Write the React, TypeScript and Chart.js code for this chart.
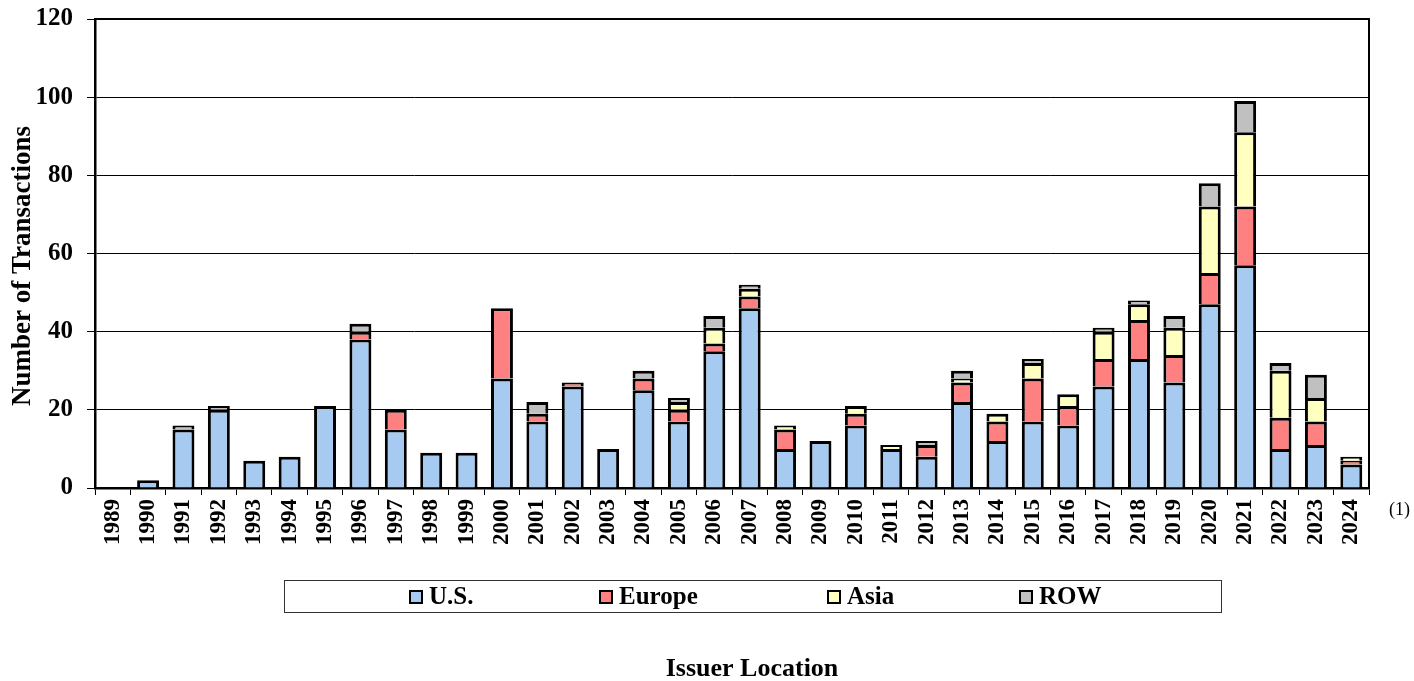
import React, { useEffect, useRef } from "react";
import { Chart, registerables } from "chart.js";

Chart.register(...registerables);

const years = [
  "1989", "1990", "1991", "1992", "1993", "1994", "1995", "1996", "1997", "1998",
  "1999", "2000", "2001", "2002", "2003", "2004", "2005", "2006", "2007", "2008",
  "2009", "2010", "2011", "2012", "2013", "2014", "2015", "2016", "2017", "2018",
  "2019", "2020", "2021", "2022", "2023", "2024",
];
const usValues = [0, 2, 15, 20, 7, 8, 21, 38, 15, 9, 9, 28, 17, 26, 10, 25, 17, 35, 46, 10, 12, 16, 10, 8, 22, 12, 17, 16, 26, 33, 27, 47, 57, 10, 11, 6];
const europeValues = [0, 0, 0, 0, 0, 0, 0, 2, 5, 0, 0, 18, 2, 1, 0, 3, 3, 2, 3, 5, 0, 3, 0, 3, 5, 5, 11, 5, 7, 10, 7, 8, 15, 8, 6, 1];
const asiaValues = [0, 0, 0, 0, 0, 0, 0, 0, 0, 0, 0, 0, 0, 0, 0, 0, 2, 4, 2, 1, 0, 2, 1, 0, 1, 2, 4, 3, 7, 4, 7, 17, 19, 12, 6, 1];
const rowValues = [0, 0, 1, 1, 0, 0, 0, 2, 0, 0, 0, 0, 3, 0, 0, 2, 1, 3, 1, 0, 0, 0, 0, 1, 2, 0, 1, 0, 1, 1, 3, 6, 8, 2, 6, 0];

const seriesNames = ["U.S.", "Europe", "Asia", "ROW"];
const seriesColors = ["#A6CAF0", "#FF8080", "#FFFFC0", "#C0C0C0"];
const yMin = 0;
const yMax = 120;
const yStep = 20;
const yTitle = "Number of Transactions";
const xTitle = "Issuer Location";
const footnote = "(1)";

const FONT = "'Liberation Serif', 'Times New Roman', serif";

// layout constants (pixels)
const legendBox = { left: 284.5, top: 580.5, right: 1221.5, bottom: 612.5 };
const legendItemX = [409, 599, 827, 1019];

const decorPlugin = {
  id: "decor",
  afterDraw(chart: any) {
    const { ctx, chartArea: a } = chart;
    ctx.save();
    // plot frame (top + right)
    ctx.strokeStyle = "#000";
    ctx.lineWidth = 2;
    ctx.beginPath();
    ctx.moveTo(a.left, a.top);
    ctx.lineTo(a.right, a.top);
    ctx.lineTo(a.right, a.bottom);
    ctx.stroke();

    // y title
    ctx.fillStyle = "#000";
    ctx.font = `bold 27px ${FONT}`;
    ctx.textAlign = "center";
    ctx.textBaseline = "middle";
    ctx.save();
    ctx.translate(23, 266);
    ctx.rotate(-Math.PI / 2);
    ctx.fillText(yTitle, 0, 0);
    ctx.restore();

    // footnote
    ctx.font = `18px ${FONT}`;
    ctx.textAlign = "left";
    ctx.textBaseline = "middle";
    ctx.fillText(footnote, 1389, 510);

    // legend box
    ctx.strokeStyle = "#333";
    ctx.lineWidth = 1;
    ctx.strokeRect(legendBox.left, legendBox.top, legendBox.right - legendBox.left, legendBox.bottom - legendBox.top);
    ctx.font = `bold 25px ${FONT}`;
    ctx.textBaseline = "alphabetic";
    seriesNames.forEach((name, i) => {
      const x = legendItemX[i];
      ctx.fillStyle = seriesColors[i];
      ctx.fillRect(x + 1, 591, 12, 12);
      ctx.strokeStyle = "#000";
      ctx.lineWidth = 2;
      ctx.strokeRect(x + 1, 591, 12, 12);
      ctx.fillStyle = "#000";
      ctx.fillText(name, x + 20, 604);
    });

    // x title
    ctx.font = `bold 26px ${FONT}`;
    ctx.textAlign = "center";
    ctx.fillText(xTitle, 752, 676);
    ctx.restore();
  },
};

export default function App() {
  const canvasRef = useRef<HTMLCanvasElement | null>(null);

  useEffect(() => {
    const canvas = canvasRef.current;
    if (!canvas) return;
    const seriesData = [usValues, europeValues, asiaValues, rowValues];
    const chart = new Chart(canvas, {
      type: "bar",
      data: {
        labels: years,
        datasets: seriesNames.map((name, i) => ({
          label: name,
          data: seriesData[i].map((v) => (v === 0 ? null : v)),
          backgroundColor: seriesColors[i],
          borderColor: "#000",
          borderWidth: 3,
          borderSkipped: "start",
          barPercentage: 0.62,
          categoryPercentage: 1,
        })),
      },
      options: {
        responsive: false,
        animation: false,
        devicePixelRatio: 1,
        layout: { padding: { top: 19, right: 45, bottom: 0, left: 0 } },
        plugins: {
          legend: { display: false },
          tooltip: { enabled: false },
          title: { display: false },
        },
        scales: {
          x: {
            stacked: true,
            offset: true,
            grid: {
              display: true,
              offset: true,
              drawOnChartArea: false,
              drawTicks: true,
              tickLength: 7,
              color: "#000",
              lineWidth: 1,
            },
            border: { display: true, color: "#000", width: 2.5 },
            ticks: {
              autoSkip: false,
              minRotation: 90,
              maxRotation: 90,
              padding: 4,
              color: "#000",
              font: { family: FONT, size: 23, weight: "bold" },
            },
            afterFit(scale: any) {
              scale.height = 193;
            },
          },
          y: {
            stacked: true,
            min: yMin,
            max: yMax,
            ticks: {
              stepSize: yStep,
              padding: 14,
              color: "#000",
              font: { family: FONT, size: 25, weight: "bold", lineHeight: 0.4 },
            },
            grid: {
              color: "#000",
              lineWidth: 1,
              drawTicks: true,
              tickLength: 8,
            },
            border: { display: true, color: "#000", width: 2.5 },
            afterFit(scale: any) {
              scale.width = 95;
            },
          },
        },
      },
      plugins: [decorPlugin],
    } as any);
    return () => chart.destroy();
  }, []);

  return (
    <div style={{ position: "absolute", left: 0, top: 0, width: 1414, height: 681 }}>
      <canvas ref={canvasRef} width={1414} height={681} style={{ display: "block", width: 1414, height: 681 }} />
    </div>
  );
}
